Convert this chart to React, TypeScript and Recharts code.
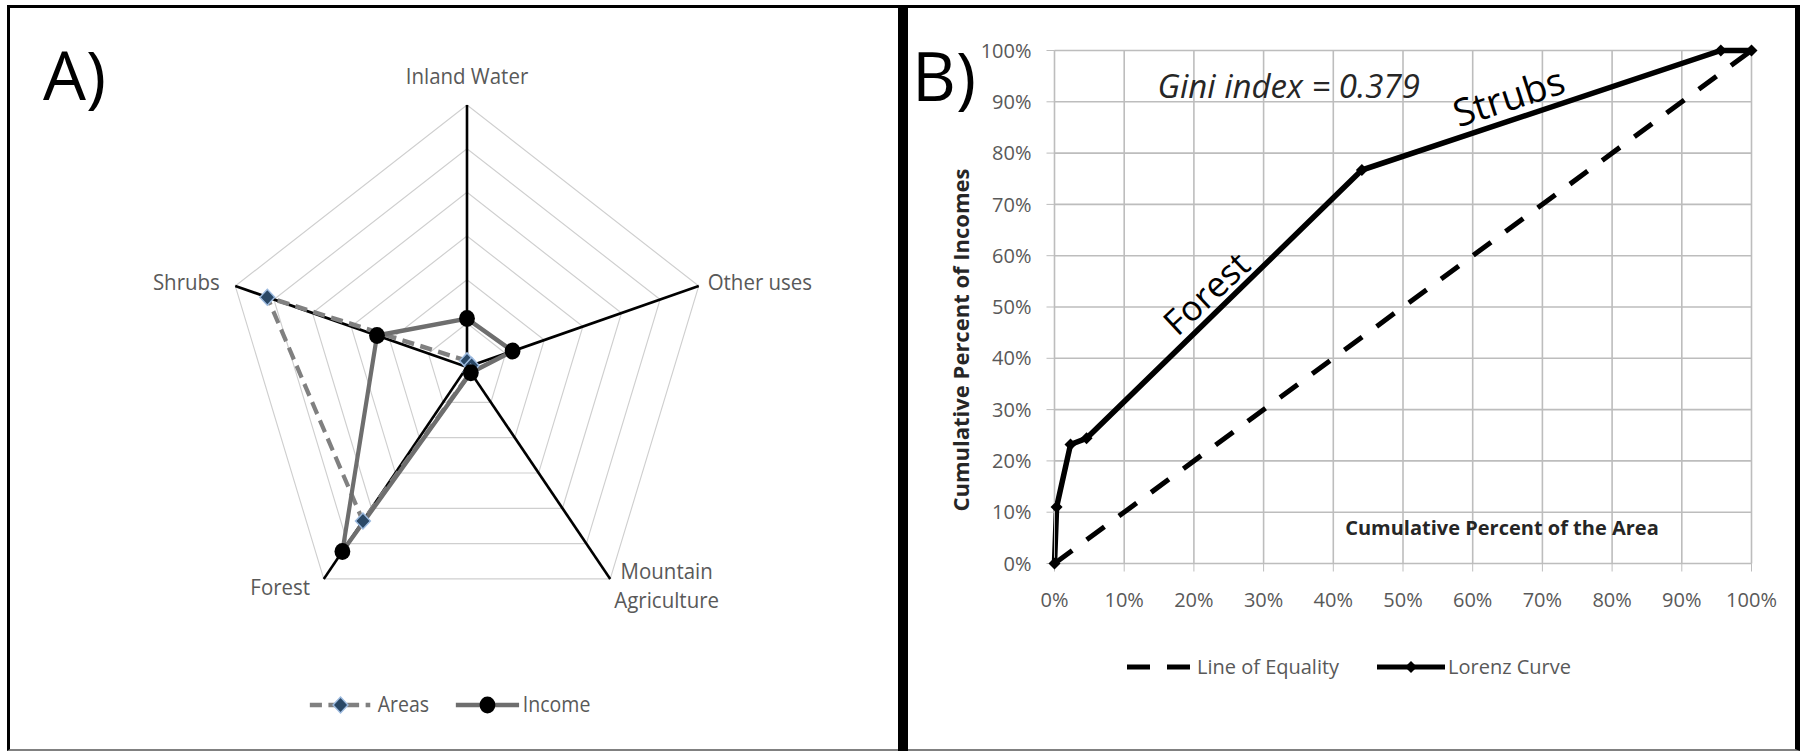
import {
  CartesianGrid,
  Legend,
  Line,
  LineChart,
  PolarAngleAxis,
  PolarGrid,
  PolarRadiusAxis,
  Radar,
  RadarChart,
  ReferenceDot,
  XAxis,
  YAxis,
} from 'recharts';

// panel A: share of each land use (% of total)
const landUses = ['Inland Water', 'Other uses', 'Mountain Agriculture', 'Forest', 'Shrubs'];
const areaShare = [1.4, 1.2, 1.5, 43.6, 51.7];
const incomeShare = [11.1, 11.8, 1.6, 52.2, 23.3];

// panel B: Lorenz curve (cumulative %)
const areaCum = [0, 0.3, 2.3, 4.6, 44.1, 95.6, 100];
const incomeCum = [0, 11.0, 23.2, 24.4, 76.7, 100, 100];
const equalityPts = [0, 100];
const pctTicks = [0, 10, 20, 30, 40, 50, 60, 70, 80, 90, 100];

const FONT = "'Open Sans', sans-serif";
const GREY = '#595959';

const radarData = landUses.map((use, i) => ({
  use,
  areas: areaShare[i],
  income: incomeShare[i],
}));
const lorenzData = areaCum.map((x, i) => ({ x, lorenz: incomeCum[i] }));
const equalityData = equalityPts.map((v) => ({ x: v, equality: v }));

const diamondPath = (cx: number, cy: number, s: number) =>
  `M${cx},${cy - s}L${cx + s},${cy}L${cx},${cy + s}L${cx - s},${cy}Z`;

function AreaDot(p: any) {
  return <path d={diamondPath(p.cx, p.cy, 8)} fill="#2a4866" stroke="#9dbbe0" strokeWidth={1.5} />;
}
function IncomeDot(p: any) {
  return <circle cx={p.cx} cy={p.cy} r={8.5} fill="#000" />;
}
function LorenzDot(p: any) {
  return <path d={diamondPath(p.cx, p.cy, 6)} fill="#000" />;
}

const labelPlace: Record<string, { dx: number; dy: number[]; anchor: 'start' | 'middle' | 'end'; lines: string[] }> = {
  'Inland Water': { dx: 0, dy: [-13], anchor: 'middle', lines: ['Inland Water'] },
  'Other uses': { dx: 2, dy: [6], anchor: 'start', lines: ['Other uses'] },
  'Mountain Agriculture': { dx: 56, dy: [-6, 23], anchor: 'middle', lines: ['Mountain', 'Agriculture'] },
  Forest: { dx: -10, dy: [10], anchor: 'end', lines: ['Forest'] },
  Shrubs: { dx: -9, dy: [6], anchor: 'end', lines: ['Shrubs'] },
};

function SpokeLabel(props: any) {
  const { x, y, payload } = props;
  const pl = labelPlace[payload.value];
  return (
    <g>
      {pl.lines.map((t, i) => (
        <text key={t} x={x + pl.dx} y={y + pl.dy[i]} textAnchor={pl.anchor} fontSize={22} fill={GREY} fontFamily={FONT}>
          {t}
        </text>
      ))}
    </g>
  );
}

function RadarLegend() {
  return (
    <svg width={320} height={30} style={{ overflow: 'visible' }}>
      <line x1={0} y1={15} x2={65} y2={15} stroke="#808080" strokeWidth={4.5} strokeDasharray="13 7" />
      <AreaDot cx={33} cy={15} />
      <text x={73} y={22} fontSize={21} fill={GREY} fontFamily={FONT}>Areas</text>
      <line x1={157} y1={15} x2={225} y2={15} stroke="#6e6e6e" strokeWidth={4.5} />
      <IncomeDot cx={191} cy={15} />
      <text x={229} y={22} fontSize={21} fill={GREY} fontFamily={FONT}>Income</text>
    </svg>
  );
}

function LorenzLegend() {
  return (
    <svg width={470} height={30} style={{ overflow: 'visible' }}>
      <line x1={0} y1={15} x2={63} y2={15} stroke="#000" strokeWidth={5} strokeDasharray="23 17" />
      <text x={70} y={22} fontSize={20} fill={GREY} fontFamily={FONT}>Line of Equality</text>
      <line x1={250} y1={15} x2={318} y2={15} stroke="#000" strokeWidth={5} />
      <LorenzDot cx={284} cy={15} />
      <text x={321} y={22} fontSize={20} fill={GREY} fontFamily={FONT}>Lorenz Curve</text>
    </svg>
  );
}

// free text placed at a data point; "rot" is the text rotation in degrees
function Annot(props: any) {
  const { viewBox, text, rot = 0, size = 20, italic, color = '#000' } = props;
  const { x, y } = viewBox;
  return (
    <text
      x={x}
      y={y}
      transform={`rotate(${rot} ${x} ${y})`}
      textAnchor="middle"
      dominantBaseline="central"
      fontSize={size}
      fontStyle={italic ? 'italic' : 'normal'}
      fill={color}
      fontFamily={FONT}
    >
      {text}
    </text>
  );
}

function YTitle(props: any) {
  const { viewBox } = props;
  const x = viewBox.x + 15.5;
  const y = viewBox.y + viewBox.height / 2 + 33;
  return (
    <text x={x} y={y} transform={`rotate(-90 ${x} ${y})`} textAnchor="middle" dominantBaseline="central"
      fontSize={22} fontWeight={700} fill="#262626" fontFamily={FONT}>
      Cumulative Percent of Incomes
    </text>
  );
}

function XTitle(props: any) {
  const { viewBox } = props;
  return (
    <text x={viewBox.x + viewBox.width * 0.642} y={viewBox.y - 36} textAnchor="middle" dominantBaseline="central"
      fontSize={20} fontWeight={700} fill="#262626" fontFamily={FONT}>
      Cumulative Percent of the Area
    </text>
  );
}

export default function App() {
  return (
    <div style={{ position: 'absolute', left: 0, top: 0, width: 1804, height: 752, background: '#fff', overflow: 'hidden', fontFamily: FONT }}>
      {/* frame and divider */}
      <div style={{ position: 'absolute', left: 7, top: 5, width: 1793, height: 746, boxSizing: 'border-box', borderTop: '3px solid #000', borderLeft: '3px solid #000', borderRight: '5px solid #000', borderBottom: '2px solid #808080' }} />
      <div style={{ position: 'absolute', left: 898, top: 5, width: 10, height: 746, background: '#000' }} />

      {/* A) radar */}
      <div style={{ position: 'absolute', left: 0, top: 0, width: 900, height: 752, transform: 'scaleX(0.93)', transformOrigin: '467px 0px' }}>
        <RadarChart width={900} height={752} data={radarData} cx={467} cy={367} outerRadius={262} startAngle={90} endAngle={-270}>
          <PolarGrid gridType="polygon" radialLines={false} stroke="#cfcfcf" strokeWidth={1.2} />
          <PolarGrid gridType="polygon" polarRadius={[]} stroke="#000" strokeWidth={2.8} />
          <PolarRadiusAxis domain={[0, 60]} tickCount={7} tick={false} axisLine={false} />
          <PolarAngleAxis dataKey="use" tick={<SpokeLabel />} tickLine={false} axisLine={false} />
          <Radar dataKey="areas" stroke="#808080" strokeWidth={4.5} strokeDasharray="13 7" fill="none" fillOpacity={0} dot={AreaDot} isAnimationActive={false} />
          <Radar dataKey="income" stroke="#6e6e6e" strokeWidth={4.5} fill="none" fillOpacity={0} dot={IncomeDot} isAnimationActive={false} />
          <Legend layout="horizontal" verticalAlign="middle" align="center" content={<RadarLegend />}
            wrapperStyle={{ left: 298, top: 690, width: 320, height: 30 }} />
        </RadarChart>
      </div>

      {/* B) Lorenz curve */}
      <div style={{ position: 'absolute', left: 908, top: 10, width: 885, height: 735 }}>
        <LineChart width={885} height={735} margin={{ top: 40.5, right: 41.5, left: 36.5, bottom: 141.5 }}>
          <CartesianGrid stroke="#bdbdbd" strokeWidth={1.6} />
          <XAxis type="number" dataKey="x" domain={[0, 100]} ticks={pctTicks} tickFormatter={(v) => `${v}%`}
            height={40} tickSize={8} tickMargin={21} stroke="#bdbdbd" tick={{ fontSize: 20, fill: GREY, fontFamily: FONT }}
            label={<XTitle />} />
          <YAxis type="number" domain={[0, 100]} ticks={pctTicks} tickFormatter={(v) => `${v}%`}
            width={110} tickSize={8} tickMargin={15} stroke="#bdbdbd" tick={{ fontSize: 20, fill: GREY, fontFamily: FONT }}
            label={<YTitle />} />
          <Line data={equalityData} dataKey="equality" type="linear" stroke="#000" strokeWidth={5} strokeDasharray="22 18" dot={false} isAnimationActive={false} />
          <Line data={lorenzData} dataKey="lorenz" type="linear" stroke="#000" strokeWidth={5.5} dot={LorenzDot} isAnimationActive={false} />
          <ReferenceDot x={33.6} y={93.1} r={0} fill="none" stroke="none" label={<Annot text="Gini index = 0.379" size={33} italic color="#262626" />} />
          <ReferenceDot x={21.7} y={52.8} r={0} fill="none" stroke="none" label={<Annot text="Forest" size={35} rot={-43} />} />
          <ReferenceDot x={65.1} y={91.2} r={0} fill="none" stroke="none" label={<Annot text="Strubs" size={38} rot={-18} />} />
          <Legend layout="horizontal" verticalAlign="middle" align="center" content={<LorenzLegend />}
            wrapperStyle={{ left: 219, top: 642, width: 470, height: 30 }} />
        </LineChart>
      </div>

      {/* panel letters */}
      <svg width={1804} height={752} style={{ position: 'absolute', left: 0, top: 0, pointerEvents: 'none' }}>
        <text x={43} y={100} fontSize={68} fontFamily={FONT} fill="#000">A)</text>
        <text x={912} y={101} fontSize={68} fontFamily={FONT} fill="#000">B)</text>
      </svg>
    </div>
  );
}
